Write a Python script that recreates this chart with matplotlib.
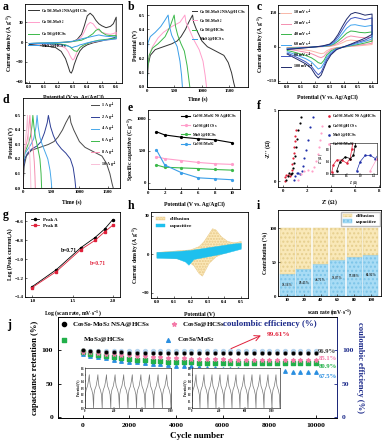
import matplotlib
matplotlib.use("Agg")
import matplotlib.pyplot as plt
import numpy as np

plt.rcParams['font.family'] = ['Liberation Serif', 'DejaVu Serif']
plt.rcParams['font.weight'] = 'bold'
plt.rcParams['axes.labelweight'] = 'bold'
plt.rcParams['mathtext.fontset'] = 'custom'
plt.rcParams['mathtext.rm'] = 'Liberation Serif:bold'
plt.rcParams['mathtext.it'] = 'Liberation Serif:italic:bold'
plt.rcParams['mathtext.bf'] = 'Liberation Serif:bold'
plt.rcParams['mathtext.default'] = 'rm'
plt.rcParams['axes.linewidth'] = 0.6
plt.rcParams['xtick.direction'] = 'in'
plt.rcParams['ytick.direction'] = 'in'

# ---------------- data ----------------
NSA = r'Co$_9$S$_8$-MoS$_2$ NSA@HCSs'
COMP = r'Co$_9$S$_8$-MoS$_2$'
CO_H = r'Co$_9$S$_8$@HCSs'
MO_H = r'MoS$_2$@HCSs'
CO_MO = r'Co$_9$S$_8$/MoS$_2$'

# (a) CV of samples
a_v_fwd = [0.0, 0.05, 0.1, 0.15, 0.2, 0.25, 0.3, 0.33, 0.36, 0.38, 0.40, 0.42, 0.44, 0.46, 0.48, 0.50, 0.53, 0.56, 0.58, 0.6]
a_v_rev = [0.6, 0.56, 0.52, 0.48, 0.44, 0.40, 0.37, 0.35, 0.33, 0.31, 0.30, 0.29, 0.28, 0.27, 0.25, 0.22, 0.18, 0.12, 0.06, 0.0]
a_black_fwd = [-3, -2.5, -2, -1.5, -1, 0, 1, 4, 12, 25, 40, 44, 40, 33, 28, 25, 22, 24, 28, 38]
a_black_rev = [8, 5, 3, 1, -1, -4, -8, -13, -22, -34, -42, -47, -45, -38, -25, -14, -8, -6, -5, -4]
a_pink_fwd = [-2, -1.5, -1.2, -1, -0.5, 0, 1, 3, 8, 16, 26, 30, 28, 22, 18, 15, 13, 12, 13, 15]
a_pink_rev = [5, 4, 3, 2, 0, -2, -5, -8, -14, -25, -27, -24, -20, -15, -9, -6, -4, -3, -2.5, -2]
a_green_fwd = [-2, -1.5, -1.2, -1, -0.5, 0, 1, 2, 3, 5, 7, 10, 13, 18, 20, 15, 11, 10, 10, 10]
a_green_rev = [6, 5, 4, 3, 1, -2, -5, -8, -14, -13, -11, -9, -7, -6, -4, -3, -2.5, -2, -2, -2]
a_blue_fwd = [-2, -1.5, -1.2, -1, -0.5, 0, 1.5, 3, 5, 6, 7, 8, 9, 10, 11, 10, 9, 8.5, 8, 8]
a_blue_rev = [5, 4, 3, 2, 1, -1, -3, -4, -6, -7, -8, -8, -7, -6, -5, -4, -3, -2.5, -2, -2]

# (b) GCD of samples at 1 A/g
b_black_t = [0, 20, 60, 150, 300, 450, 550, 620, 700, 760, 830, 850, 900, 950, 1000, 1100, 1200, 1300, 1400, 1480, 1540, 1580, 1600]
b_black_v = [0, 0.15, 0.22, 0.26, 0.28, 0.3, 0.32, 0.35, 0.4, 0.45, 0.5, 0.45, 0.4, 0.36, 0.32, 0.28, 0.26, 0.24, 0.22, 0.17, 0.1, 0.03, 0]
b_pink_t = [0, 15, 40, 100, 200, 300, 450, 600, 690, 710, 770, 850, 950, 1020, 1060, 1085]
b_pink_v = [0, 0.15, 0.22, 0.28, 0.34, 0.38, 0.42, 0.45, 0.5, 0.45, 0.4, 0.33, 0.26, 0.18, 0.08, 0]
b_green_t = [0, 10, 40, 100, 200, 330, 420, 495, 520, 560, 620, 680, 730, 760, 780]
b_green_v = [0, 0.12, 0.22, 0.27, 0.3, 0.35, 0.42, 0.5, 0.42, 0.36, 0.3, 0.25, 0.15, 0.06, 0]
b_blue_t = [0, 5, 20, 60, 150, 250, 320, 385, 410, 450, 500, 550, 600, 630, 645]
b_blue_v = [0, 0.25, 0.31, 0.35, 0.38, 0.42, 0.46, 0.5, 0.42, 0.36, 0.32, 0.28, 0.18, 0.08, 0]

# (c) CV at scan rates
c_rates = ['10 mV s$^{-1}$', '20 mV s$^{-1}$', '40 mV s$^{-1}$', '60 mV s$^{-1}$', '80 mV s$^{-1}$', '100 mV s$^{-1}$']
c_v_fwd = [0.0, 0.05, 0.1, 0.15, 0.2, 0.25, 0.3, 0.33, 0.36, 0.39, 0.42, 0.45, 0.48, 0.51, 0.55, 0.6]
c_v_rev = [0.6, 0.55, 0.5, 0.45, 0.4, 0.35, 0.31, 0.28, 0.26, 0.24, 0.22, 0.2, 0.17, 0.13, 0.08, 0.04, 0.0]
c_fwd = [
    [-3, -2, -1.5, -1, 0, 1, 2, 5, 10, 18, 27, 30, 28, 26, 25, 27],
    [-4, -3, -2, -1, 0, 1, 3, 8, 16, 28, 42, 48, 45, 42, 40, 43],
    [-6, -5, -3, -2, 0, 2, 5, 12, 25, 42, 60, 70, 68, 64, 62, 66],
    [-8, -6, -4, -2, 0, 2, 7, 16, 34, 58, 82, 96, 98, 94, 90, 95],
    [-10, -8, -5, -3, 0, 3, 10, 22, 45, 75, 105, 125, 130, 126, 120, 128],
    [-12, -9, -6, -3, 0, 4, 12, 28, 55, 90, 122, 145, 152, 148, 140, 145],
]
c_rev = [
    [10, 7, 4, 2, -1, -3, -8, -17, -28, -30, -27, -23, -18, -14, -11, -8, -6],
    [16, 11, 7, 3, -1, -4, -12, -26, -42, -48, -44, -38, -30, -24, -18, -14, -10],
    [25, 17, 10, 5, -1, -6, -18, -36, -60, -74, -70, -60, -48, -38, -29, -22, -16],
    [35, 24, 15, 7, -1, -8, -24, -45, -72, -92, -98, -85, -66, -52, -40, -30, -22],
    [45, 30, 20, 10, 0, -10, -30, -55, -85, -112, -124, -110, -85, -66, -50, -38, -28],
    [55, 38, 25, 12, 0, -12, -35, -65, -95, -125, -138, -125, -95, -75, -58, -45, -32],
]

# (d) GCD at current densities
d_labels = ['1 A g$^{-1}$', '2 A g$^{-1}$', '4 A g$^{-1}$', '6 A g$^{-1}$', '8 A g$^{-1}$', '10 A g$^{-1}$']
d_t = [
    [0, 20, 60, 150, 300, 450, 550, 620, 700, 760, 830, 850, 900, 950, 1000, 1100, 1200, 1300, 1400, 1480, 1540, 1580, 1600],
    [0, 10, 30, 80, 160, 250, 320, 380, 430, 450, 490, 540, 600, 680, 760, 840, 890, 920, 935],
    [0, 5, 15, 40, 90, 140, 190, 230, 250, 270, 300, 340, 390, 440, 480, 500, 510],
    [0, 4, 10, 25, 60, 100, 135, 160, 175, 195, 220, 260, 300, 320, 330],
    [0, 3, 8, 20, 45, 70, 95, 112, 122, 135, 155, 180, 200, 212, 218],
    [0, 2, 6, 14, 30, 45, 60, 72, 80, 88, 100, 115, 128, 136, 140],
]
d_v = [
    [0, 0.15, 0.22, 0.26, 0.28, 0.3, 0.32, 0.35, 0.4, 0.45, 0.5, 0.45, 0.4, 0.36, 0.32, 0.28, 0.26, 0.24, 0.22, 0.17, 0.1, 0.03, 0],
    [0, 0.14, 0.2, 0.24, 0.27, 0.29, 0.32, 0.38, 0.45, 0.5, 0.42, 0.36, 0.31, 0.27, 0.24, 0.2, 0.14, 0.06, 0],
    [0, 0.14, 0.2, 0.24, 0.27, 0.3, 0.34, 0.42, 0.5, 0.42, 0.35, 0.3, 0.25, 0.2, 0.12, 0.05, 0],
    [0, 0.14, 0.2, 0.24, 0.27, 0.31, 0.36, 0.43, 0.5, 0.42, 0.35, 0.28, 0.2, 0.1, 0],
    [0, 0.14, 0.2, 0.24, 0.28, 0.32, 0.38, 0.45, 0.5, 0.42, 0.34, 0.27, 0.18, 0.08, 0],
    [0, 0.14, 0.2, 0.24, 0.28, 0.33, 0.39, 0.45, 0.5, 0.42, 0.34, 0.26, 0.16, 0.06, 0],
]

# (e) specific capacitance vs current density
e_current = [1, 2, 4, 6, 8, 10]
e_black = [800, 750, 715, 690, 675, 630]
e_pink = [410, 380, 350, 320, 300, 290]
e_green = [280, 245, 235, 225, 210, 200]
e_blue = [520, 280, 160, 80, 65, 50]

# (f) Nyquist
f_red_x = [0.15, 0.2, 0.3, 0.45, 0.6, 0.7, 0.75, 0.8, 0.85, 0.9, 0.95, 1.0, 1.05, 1.1]
f_red_y = [0.05, 0.3, 0.45, 0.45, 0.35, 0.5, 0.8, 1.2, 1.6, 2.0, 2.4, 2.8, 3.2, 3.6]
f_black_x = [0.3, 0.4, 0.55, 0.7, 0.8, 0.85, 0.9, 1.0, 1.1, 1.2, 1.3, 1.4, 1.5]
f_black_y = [0.1, 0.4, 0.55, 0.5, 0.6, 0.9, 1.3, 1.8, 2.4, 3.0, 3.6, 4.1, 4.5]
f_blue_x = [0.9, 1.0, 1.15, 1.3, 1.45, 1.6, 1.7, 1.8, 1.95, 2.1, 2.3, 2.5]
f_blue_y = [0.1, 0.4, 0.6, 0.6, 0.5, 0.7, 1.1, 1.6, 2.2, 2.9, 3.8, 4.5]
f_pink_x = [1.3, 1.5, 1.8, 2.1, 2.4, 2.6, 2.75, 2.9, 3.0, 3.1, 3.2, 3.3]
f_pink_y = [0.1, 0.5, 0.75, 0.8, 0.75, 1.0, 1.4, 1.9, 2.4, 2.9, 3.4, 3.9]

# (g) log peak current
g_logv = [1.0, 1.3, 1.6, 1.78, 1.9, 2.0]
g_peakA = [-1.29, -1.11, -0.88, -0.77, -0.68, -0.58]
g_peakB = [-1.30, -1.13, -0.90, -0.80, -0.71, -0.64]

# (h) capacitive vs diffusion
h_v_fwd = [0.0, 0.1, 0.2, 0.25, 0.28, 0.31, 0.33, 0.35, 0.38, 0.42, 0.46, 0.5]
h_tot_fwd = [1.5, 2.5, 3.5, 6, 10, 16, 20, 19, 14, 10, 9, 10]
h_v_rev = [0.5, 0.45, 0.4, 0.35, 0.31, 0.29, 0.27, 0.25, 0.22, 0.18, 0.1, 0.0]
h_tot_rev = [5, 3, 1, -2, -7, -12, -17, -15, -9, -5, -3, -2.5]
h_cv_fwd = [0.0, 0.1, 0.2, 0.3, 0.4, 0.45, 0.5]
h_cap_fwd = [1.5, 2, 3, 5, 7, 8, 8.6]
h_cv_rev = [0.5, 0.4, 0.3, 0.22, 0.19, 0.17, 0.12, 0.0]
h_cap_rev = [4, 0.5, -2, -4, -8.5, -6, -3.5, -3]

# (i) contribution
i_rates = ['10', '20', '40', '60', '80', '100']
i_cap = [33.16, 39.45, 46.71, 53.87, 57.88, 60.92]
i_cap_lbl = ['33.16%', '39.45%', '46.71%', '53.87%', '57.88%', '60.92%']

# (j) cycling
j_cycle = [0, 333, 667, 1000, 1333, 1667, 2000, 2333, 2667, 3000, 3333, 3667, 4000, 4333, 4667, 5000,
           5333, 5667, 6000, 6333, 6667, 7000, 7333, 7667, 8000, 8333, 8667, 9000, 9333, 9667, 10000]
j_black = [100, 99.2, 98.5, 98, 97.5, 97, 96.5, 96, 95.8, 95.5, 95.5, 95.5, 96, 96.2, 96.3, 96.5,
           96.5, 96.6, 96.7, 96.8, 96.8, 96.9, 96.9, 96.9, 96.9, 96.9, 96.9, 96.9, 96.9, 96.9, 96.9]
j_pink = [98, 97, 96, 95, 94, 93, 92.5, 92, 91, 90, 89.5, 89, 88.5, 88, 87.5, 87,
          87, 86.5, 86.5, 86, 86, 85.8, 85.6, 85.5, 85.4, 85.3, 85.2, 85.2, 85.1, 85.1, 85.1]
j_green = [97, 95, 93, 91.5, 90, 88.5, 87, 86, 85, 84, 83.5, 83, 82.5, 82, 82, 81.5,
           81.5, 81.3, 81.2, 81.1, 81, 81, 81, 80.9, 80.9, 80.9, 80.9, 80.9, 80.9, 80.9, 80.9]
j_blue = [95, 92, 90, 88, 86, 84.5, 83, 82, 81, 80, 79, 78, 77, 76.5, 76, 75,
          74.5, 74, 73, 72.5, 72, 71.5, 71, 70.5, 70, 69.5, 69, 68.5, 68, 67.8, 67.5]
j_ce = [99.0, 99.3, 99.5, 99.6, 99.6, 99.6, 99.7, 99.6, 99.6, 99.6, 99.6, 99.6, 99.6, 99.6, 99.6, 99.6,
        99.6, 99.6, 99.6, 99.6, 99.6, 99.6, 99.6, 99.6, 99.6, 99.6, 99.6, 99.6, 99.6, 99.6, 99.6]
j_end_lbl = ['96.9%', '85.1%', '80.9%', '67.5%']
# inset GCD single cycle shape (time in s, potential in V)
ins_cycle_t = [0, 4, 15, 35, 50, 60, 64, 75, 95, 110, 120]
ins_cycle_v = [0, 0.2, 0.27, 0.33, 0.42, 0.5, 0.42, 0.33, 0.27, 0.2, 0]

# ---------------- figure ----------------
W, H = 383, 445
fig = plt.figure(figsize=(W / 100, H / 100), dpi=100)

def pax(l, t, r, b):
    return fig.add_axes([l / W, 1 - b / H, (r - l) / W, (b - t) / H])

FS = 3.5
LFS = 4.1
LEG = 3.0
XLP = 2.5

def style(ax, fs=FS):
    ax.tick_params(labelsize=fs, length=1.3, width=0.4, pad=1.2)
    for lab in ax.get_xticklabels() + ax.get_yticklabels():
        lab.set_fontweight('bold')

def plabel(x, y, s, size=8.5):
    fig.text(x / W, 1 - y / H, s, fontsize=size, fontweight='bold', ha='left', va='center')

BLK = '#333333'
PNK = '#ff9ecb'
GRN = '#3cb94a'
BLU = '#3a9ee8'

# (a)
ax = pax(25, 4, 122, 83)
for f, r, c, lab in [(a_black_fwd, a_black_rev, BLK, NSA), (a_pink_fwd, a_pink_rev, PNK, COMP),
                     (a_green_fwd, a_green_rev, GRN, CO_H), (a_blue_fwd, a_blue_rev, BLU, MO_H)]:
    ax.plot(a_v_fwd + a_v_rev, f + r, color=c, lw=0.7, label=lab)
ax.set_xlim(-0.03, 0.64)
ax.set_ylim(-62, 58)
ax.set_xticks([0.0, 0.1, 0.2, 0.3, 0.4, 0.5, 0.6])
ax.set_yticks([-60, -30, 0, 30])
ax.set_xlabel('Potential (V vs. Ag/AgCl)', fontsize=LFS, labelpad=XLP + 1.5)
ax.set_ylabel('Current density (A g$^{-1}$)', fontsize=LFS, labelpad=1)
ax.legend(loc='upper left', fontsize=LEG, frameon=False, handlelength=2.6, labelspacing=0.9,
          borderaxespad=0.3, handletextpad=0.5)
style(ax)
plabel(3, 7, 'a')

# (b)
ax = pax(147, 5, 248, 87)
for t, v, c, lab in [(b_black_t, b_black_v, BLK, NSA), (b_pink_t, b_pink_v, PNK, COMP),
                     (b_green_t, b_green_v, GRN, CO_H), (b_blue_t, b_blue_v, BLU, MO_H)]:
    ax.plot(t, v, color=c, lw=0.7, label=lab)
ax.set_xlim(0, 1840)
ax.set_ylim(0, 0.57)
ax.set_xticks([0, 500, 1000, 1500])
ax.set_yticks([0.0, 0.1, 0.2, 0.3, 0.4, 0.5])
ax.set_xlabel('Time (s)', fontsize=LFS, labelpad=XLP)
ax.set_ylabel('Potential (V)', fontsize=LFS, labelpad=1)
ax.legend(loc='upper right', fontsize=LEG, frameon=False, handlelength=1.0, labelspacing=0.35,
          borderaxespad=0.2, handletextpad=0.5)
style(ax)
plabel(128, 7, 'b')

# (c)
ax = pax(278, 5, 377, 83)
c_cols = ['#f9b7a8', '#f48fb0', '#39b54a', '#43a6f0', '#3f55c0', '#1f2a6b']
for k in range(6):
    ax.plot(c_v_fwd + c_v_rev, c_fwd[k] + c_rev[k], color=c_cols[k], lw=0.7, label=c_rates[k])
ax.set_xlim(-0.065, 0.635)
ax.set_ylim(-160, 185)
ax.set_xticks([0.0, 0.1, 0.2, 0.3, 0.4, 0.5, 0.6])
ax.set_yticks([-150, 0, 150])
ax.set_xlabel('Potential (V vs. Ag/AgCl)', fontsize=LFS, labelpad=XLP + 1.5)
ax.set_ylabel('Current density (A g$^{-1}$)', fontsize=LFS, labelpad=1)
ax.legend(loc='upper left', fontsize=LEG, frameon=False, handlelength=2.4, labelspacing=0.35,
          borderaxespad=0.3, handletextpad=0.5)
style(ax)
plabel(257, 7, 'c')

# (d)
ax = pax(23, 98, 120, 188)
d_cols = ['#4a4a4a', '#2e3f96', '#48a8ea', '#3cb94a', '#f48fb0', '#f9c0d8']
for k in range(6):
    ax.plot(d_t[k], d_v[k], color=d_cols[k], lw=0.7, label=d_labels[k])
ax.set_xlim(0, 1720)
ax.set_ylim(0, 0.62)
ax.set_xticks([0, 500, 1000, 1500])
ax.set_yticks([0.0, 0.1, 0.2, 0.3, 0.4, 0.5])
ax.set_xlabel('Time (s)', fontsize=LFS, labelpad=XLP + 1.5)
ax.set_ylabel('Potential (V)', fontsize=LFS, labelpad=1)
ax.legend(loc='upper right', fontsize=LEG, frameon=False, handlelength=2.0, labelspacing=0.35,
          borderaxespad=0.2, handletextpad=0.5)
style(ax)
plabel(3, 100, 'd')

# (e)
ax = pax(148, 110, 240, 189)
for vals, c, lab in [(e_black, 'black', NSA), (e_pink, PNK, CO_H), (e_green, GRN, MO_H), (e_blue, BLU, CO_MO)]:
    ax.plot(e_current, vals, color=c, lw=0.8, marker='o', ms=1.3, label=lab)
ax.set_xlim(0, 11)
ax.set_ylim(-95, 1140)
ax.set_xticks([0, 2, 4, 6, 8, 10])
ax.set_yticks([0, 500, 1000])
ax.set_xlabel('Potential (V vs. Ag/AgCl)', fontsize=LFS, labelpad=XLP + 2)
ax.set_ylabel('Specific capacitive (C g$^{-1}$)', fontsize=LFS, labelpad=1)
ax.legend(loc='upper right', fontsize=2.9, frameon=False, handlelength=2.2, labelspacing=0.3,
          borderaxespad=0.2, handletextpad=0.5)
style(ax)
plabel(128, 108, 'e')

# (f)
ax = pax(278, 110, 380, 187)
for xs, ys, c, lab in [(f_red_x, f_red_y, '#e0203a', NSA), (f_black_x, f_black_y, 'black', CO_H),
                       (f_blue_x, f_blue_y, '#1f2fa8', MO_H), (f_pink_x, f_pink_y, '#ffa0c8', CO_MO)]:
    ax.scatter(xs, ys, s=2.5, color=c, label=lab, lw=0)
ax.set_xlim(-0.4, 8.1)
ax.set_ylim(-0.4, 5.0)
ax.set_xticks([0, 2, 4, 6, 8])
ax.set_yticks([0, 5])
ax.set_xlabel("Z' ($\\Omega$)", fontsize=LFS, labelpad=XLP + 1)
ax.set_ylabel("-Z'' ($\\Omega$)", fontsize=LFS, labelpad=1)
ax.legend(loc='upper right', fontsize=2.9, frameon=False, handlelength=0.8, labelspacing=0.3,
          borderaxespad=0.2, handletextpad=0.3, markerscale=1.2)
style(ax)
ins = ax.inset_axes([0.51, 0.17, 0.46, 0.40])
for xs, ys, c in [(f_red_x, f_red_y, '#e0203a'), (f_black_x, f_black_y, 'black'),
                  (f_blue_x, f_blue_y, '#1f2fa8'), (f_pink_x, f_pink_y, '#ffa0c8')]:
    ins.plot(xs, ys, color=c, lw=0.5, marker='o', ms=0.8)
ins.set_xlim(0.1, 1.5)
ins.set_ylim(0, 1.0)
ins.set_xticks([0.2, 0.6, 1.0, 1.4])
ins.set_yticks([0.0, 0.4, 0.8])
ins.tick_params(labelsize=2.0, length=0.8, width=0.3, pad=0.4)
ins.set_xlabel("Z' ($\\Omega$)", fontsize=2.0, labelpad=0.2)
ins.set_ylabel("-Z'' ($\\Omega$)", fontsize=2.0, labelpad=0.3)
for s in ins.spines.values():
    s.set_linewidth(0.4)
plabel(257, 106, 'f')

# (g)
ax = pax(25, 212, 120, 297)
ax.plot(g_logv, g_peakA, color='black', lw=0.6, marker='o', ms=1.5, label='Peak A')
ax.plot(g_logv, g_peakB, color='#e0203a', lw=0.6, marker='s', ms=1.5, label='Peak B')
ax.set_xlim(0.91, 2.09)
ax.set_ylim(-1.4, -0.5)
ax.set_xticks([1.0, 1.5, 2.0])
ax.set_yticks([-1.4, -1.2, -1.0, -0.8, -0.6])
ax.set_xlabel('Log (scan rate, mV$\\cdot$s$^{-1}$)', fontsize=LFS, labelpad=XLP + 1.5)
ax.set_ylabel('Log (Peak current,A)', fontsize=LFS, labelpad=1)
ax.legend(loc='upper left', fontsize=3.4, frameon=False, handlelength=1.8, labelspacing=0.3,
          borderaxespad=0.8)
ax.text(1.35, -0.92, 'b=0.71', fontsize=4.0, color='black', fontweight='bold')
ax.text(1.72, -1.06, 'b=0.71', fontsize=4.0, color='#e0203a', fontweight='bold')
style(ax)
plabel(3, 215, 'g')

# (h)
ax = pax(151, 212, 248, 298)
ax.fill(h_v_fwd + h_v_rev, h_tot_fwd + h_tot_rev, facecolor='#fbe8b8', edgecolor='#e8c98a',
        hatch='......', lw=0.3, label='diffusion')
ax.fill(h_cv_fwd + h_cv_rev, h_cap_fwd + h_cap_rev, facecolor='#1ec0ee', edgecolor='#1ec0ee',
        lw=0.3, label='capacitive')
ax.set_xlim(-0.035, 0.54)
ax.set_ylim(-34, 33)
ax.set_xticks([0.0, 0.1, 0.2, 0.3, 0.4, 0.5])
ax.set_yticks([-30, 0, 30])
ax.set_xlabel('Potential (V)', fontsize=LFS, labelpad=XLP + 3)
ax.set_ylabel('Current density (A g$^{-1}$)', fontsize=LFS, labelpad=1)
ax.legend(loc='upper left', fontsize=3.8, frameon=False, handlelength=1.8, labelspacing=0.4,
          borderaxespad=0.5)
style(ax)
plabel(128, 206, 'h')

# (i)
ax = pax(278, 210, 381, 296)
xpos = np.arange(len(i_rates))
i_dif = [100 - v for v in i_cap]
ax.bar(xpos, i_cap, width=0.9, color='#a8dcf5', edgecolor='#7cc4e8', hatch='....', lw=0.3, label='capacitive')
ax.bar(xpos, i_dif, width=0.9, bottom=i_cap, color='#f9e8b8', edgecolor='#e6cf8e', hatch='....', lw=0.3,
       label='diffusion')
for k in range(len(i_rates)):
    ax.text(xpos[k], i_cap[k] * 0.5, i_cap_lbl[k], fontsize=2.3, ha='center', va='center',
            fontweight='bold', color='#333333')
ax.set_xlim(-0.55, 5.6)
ax.set_ylim(0, 127)
ax.set_xticks(xpos)
ax.set_xticklabels(i_rates)
ax.set_yticks([0, 50, 100])
ax.set_xlabel('scan rate (mV$\\cdot$s$^{-1}$)', fontsize=LFS, labelpad=XLP + 1.5)
ax.set_ylabel('Contribution (%)', fontsize=LFS, labelpad=1)
h_, l_ = ax.get_legend_handles_labels()
ax.legend(h_[::-1], l_[::-1], loc='upper right', fontsize=3.6, frameon=True, edgecolor='#aaaaaa',
          handlelength=1.8, labelspacing=0.2, borderaxespad=0.3, fancybox=False)
style(ax)
plabel(257, 206, 'i')

# (j)
ax = pax(58, 317, 337, 418)
ax.scatter(j_cycle, j_ce, s=8, color='#b5d4ee', zorder=2)
ax.scatter(j_cycle, j_blue, s=6, marker='^', color='#2b8fe0', zorder=3, label=CO_MO)
ax.scatter(j_cycle, j_green, s=6, marker='s', color='#22b04a', zorder=3, label=MO_H)
ax.scatter(j_cycle, j_pink, s=8, marker='*', color='#f47aa8', zorder=3, label=CO_H)
ax.scatter(j_cycle, j_black, s=9, marker='o', color='black', edgecolor='#888888', lw=0.3, zorder=4, label=NSA)
ax.set_xlim(-1050, 10900)
ax.set_ylim(-1, 150)
ax.set_xticks([0, 2000, 4000, 6000, 8000, 10000])
ax.set_yticks([0, 50, 100])
ax.tick_params(labelsize=5.4, length=2, width=0.6)
for lab in ax.get_xticklabels() + ax.get_yticklabels():
    lab.set_fontweight('bold')
ax.set_xlabel('Cycle number', fontsize=6.5, labelpad=3)
ax.set_ylabel('capacitance retention (%)', fontsize=6.2, labelpad=2)
ax2 = ax.twinx()
ax2.set_ylim(-1, 150)
ax2.set_yticks([0, 50, 100])
ax2.tick_params(labelsize=5.4, length=2, width=0.6, colors='#1c2a8a')
ax2.spines['right'].set_color('#1c2a8a')
for lab in ax2.get_yticklabels():
    lab.set_fontweight('bold')
ax2.set_ylabel('coulombic efficiency (%)', fontsize=6.2, color='#1c2a8a', rotation=270, labelpad=8)

# legend rows (manual)
ax.scatter([-800], [139], s=9, marker='o', color='black')
ax.text(-430, 139, NSA, fontsize=5.0, va='center', fontweight='bold')
ax.scatter([3900], [139], s=9, marker='*', color='#f47aa8')
ax.text(4250, 139, CO_H, fontsize=5.0, va='center', fontweight='bold')
ax.text(6000, 139, 'coulombic efficiency (%)', fontsize=6.4, va='center', fontweight='bold', color='#1c2a8a')
ax.scatter([-800], [116], s=7, marker='s', color='#22b04a')
ax.text(0, 116, MO_H, fontsize=5.0, va='center', fontweight='bold')
ax.scatter([3650], [116], s=7, marker='^', color='#2b8fe0')
ax.text(4050, 116, CO_MO, fontsize=5.0, va='center', fontweight='bold')
ax.annotate('', xy=(7750, 124), xytext=(6250, 101),
            arrowprops=dict(arrowstyle='->', color='#e0203a', lw=0.7))
ax.text(7900, 124, '99.61%', fontsize=5.2, color='#e0203a', fontweight='bold', va='center')
for yv, s, c in [(99, j_end_lbl[0], '#333333'), (88, j_end_lbl[1], '#f47aa8'),
                 (76, j_end_lbl[2], '#22b04a'), (61, j_end_lbl[3], '#2b8fe0')]:
    ax.text(10100, yv, s, fontsize=4.8, color=c, fontweight='bold', va='center')

# insets in (j)
for (l, r, nc) in [(85, 171, 10), (192, 280, 11)]:
    ia = pax(l, 368, r, 408)
    tt = []
    vv = []
    for k in range(nc):
        tt += [k * 120 + t for t in ins_cycle_t]
        vv += ins_cycle_v
    ia.plot(tt, vv, color='#777777', lw=0.5)
    ia.set_xlim(0, nc * 120)
    ia.set_ylim(0, 0.6)
    ia.set_yticks([0.0, 0.1, 0.2, 0.3, 0.4, 0.5, 0.6])
    ia.set_xticks([0, 400, 800, 1200])
    ia.tick_params(labelsize=2.0, length=0.8, width=0.3, pad=0.5)
    ia.set_ylabel('Potential (V)', fontsize=2.2, labelpad=0.5)
    for s in ia.spines.values():
        s.set_linewidth(0.4)
plabel(7, 325, 'j', size=8.5)

fig.savefig('out.png', dpi=100)
